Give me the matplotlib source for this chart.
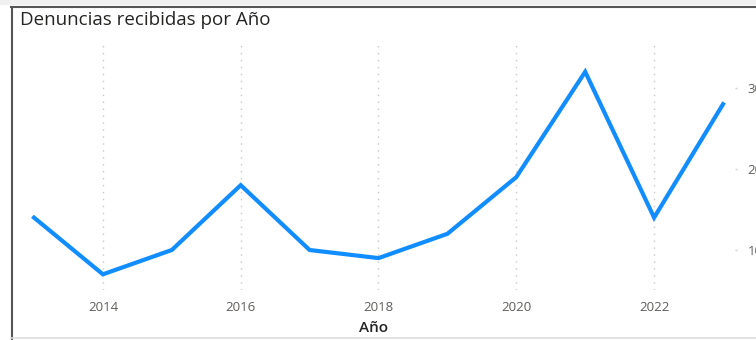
import matplotlib
matplotlib.use('Agg')
import matplotlib.pyplot as plt
from matplotlib.lines import Line2D
from matplotlib.patches import Rectangle

years = [2013, 2014, 2015, 2016, 2017, 2018, 2019, 2020, 2021, 2022, 2023]
denuncias = [14, 7, 10, 18, 10, 9, 12, 19, 32, 14, 28]
x_ticks = [2014, 2016, 2018, 2020, 2022]
y_ticks = [10, 20, 30]

W, H = 756, 340
fig = plt.figure(figsize=(W / 100, H / 100), dpi=100)
fig.patch.set_facecolor('white')

# frame of the visual
fig.patches.append(Rectangle((0, 1 - 5 / H), 1, 5 / H, transform=fig.transFigure,
                             facecolor='#f0f0f0', edgecolor='none'))
fig.lines.append(Line2D([11 / W, 1], [1 - 6.5 / H, 1 - 6.5 / H], transform=fig.transFigure,
                        color='#555555', lw=1.5))
fig.lines.append(Line2D([11.5 / W, 11.5 / W], [1 - 6.5 / H, 0], transform=fig.transFigure,
                        color='#555555', lw=1.5))
fig.lines.append(Line2D([11 / W, 1], [2 / H, 2 / H], transform=fig.transFigure,
                        color='#dddddd', lw=1.2))

# axes: left 12px, right 735px, top 40px, bottom 290px
ax = fig.add_axes([12 / W, 1 - 290 / H, (735 - 12) / W, 250 / H])
ax.plot(years, denuncias, color='#118DFF', lw=3, solid_joinstyle='miter')

ax.set_xlim(2013 - 22 / 68.9, 2023 + 12 / 68.9)
ax.set_ylim(10 - 40 / 8.1, 10 + 210 / 8.1)

for s in ax.spines.values():
    s.set_visible(False)

ax.set_xticks(x_ticks)
ax.set_xticklabels([str(x) for x in x_ticks])
ax.set_yticks(y_ticks)
ax.set_yticklabels([str(y) for y in y_ticks])
ax.yaxis.tick_right()
ax.tick_params(axis='x', length=0, pad=8, labelsize=9.5, labelcolor='#605E5C')
ax.tick_params(axis='y', length=1.5, width=1, color='#d0d0d0', pad=7.5,
               labelsize=9.5, labelcolor='#605E5C')
ax.xaxis.grid(True, color='#c8c8c8', linestyle=(0, (1, 4)), lw=1)
ax.yaxis.grid(False)
for lbl in ax.get_xticklabels() + ax.get_yticklabels():
    lbl.set_fontfamily('Open Sans')

ax.set_xlabel('Año', fontsize=11, color='#252423', labelpad=5, fontfamily='Open Sans',
              fontweight='semibold')

fig.text(20 / W, 1 - 20 / H, 'Denuncias recibidas por Año', fontsize=13.5,
         color='#252423', va='center', ha='left', fontfamily='Open Sans')

fig.savefig('out.png', dpi=100)
